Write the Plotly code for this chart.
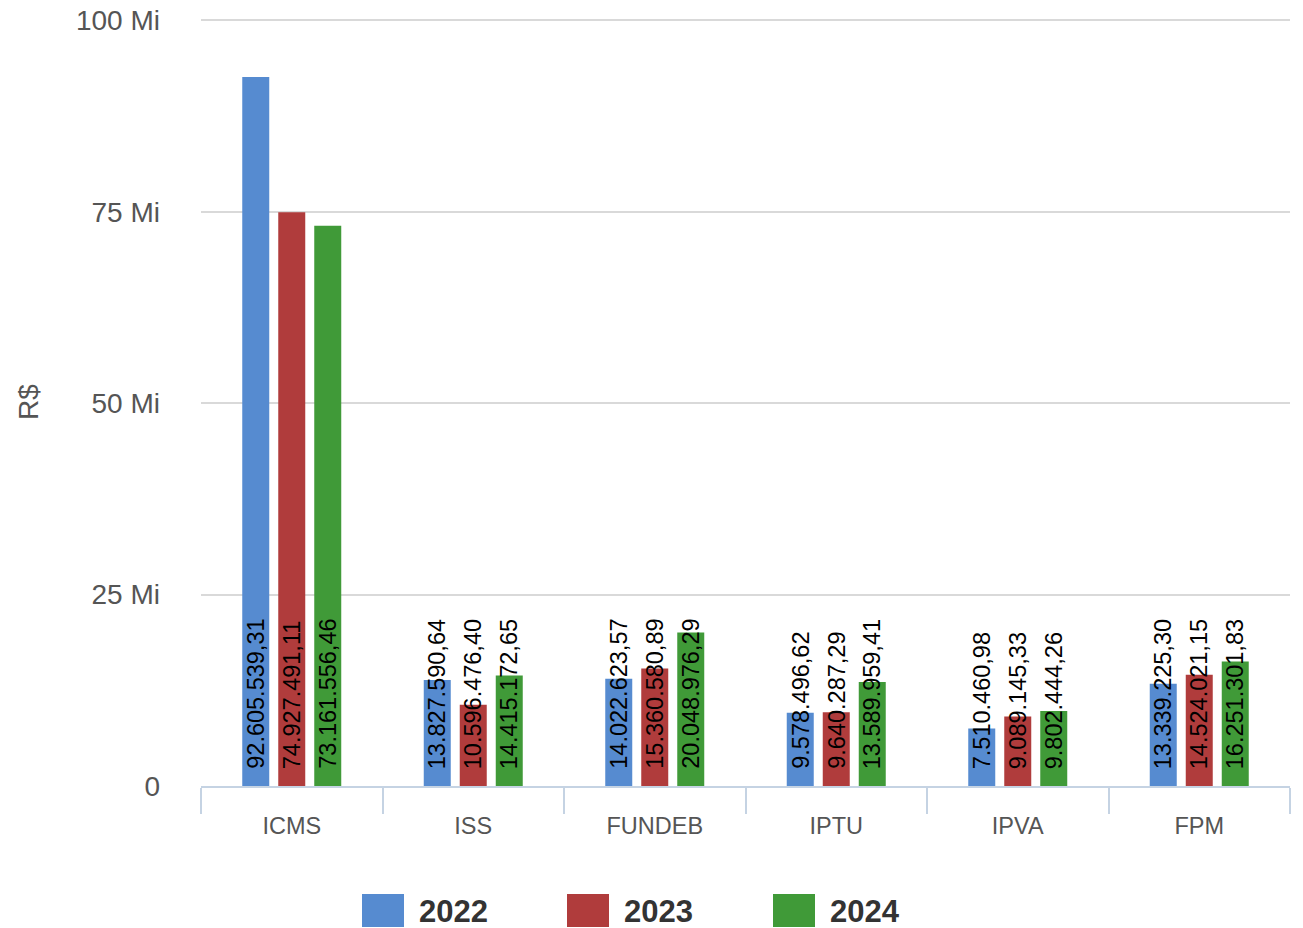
import plotly.graph_objects as go

categories = ["ICMS", "ISS", "FUNDEB", "IPTU", "IPVA", "FPM"]
years = ["2022", "2023", "2024"]
v2022 = [92605539.31, 13827590.64, 14022623.57, 9578496.62, 7510460.98, 13339225.30]
v2023 = [74927491.11, 10596476.40, 15360580.89, 9640287.29, 9089145.33, 14524021.15]
v2024 = [73161556.46, 14415172.65, 20048976.29, 13589959.41, 9802444.26, 16251301.83]
colors = ["#568bd0", "#b03c3c", "#409a38"]
tick_vals = [0, 25e6, 50e6, 75e6, 100e6]
tick_text = ["0", "25 Mi", "50 Mi", "75 Mi", "100 Mi"]


def fmt_br(v):
    s = f"{v:,.2f}"
    return s.replace(",", "X").replace(".", ",").replace("X", ".")


# page body adds an 8px margin; figure coordinates are offset accordingly
W, H = 1287, 920
L, R, T, B = 193, 5, 10, 142
PW, PH = W - L - R, H - T - B
BARGAP = 0.405
cat_px = PW / len(categories)
slot_px = cat_px * (1 - BARGAP) / 3

fig = go.Figure()
for i, (name, vals, col) in enumerate(zip(years, [v2022, v2023, v2024], colors)):
    fig.add_trace(go.Bar(
        x=categories, y=vals, name=name,
        marker=dict(color=col, line=dict(width=0)),
        showlegend=False, hoverinfo="x+y+name",
    ))
    for c, v in zip(categories, vals):
        fig.add_annotation(
            x=c, y=0, xref="x", yref="y",
            xshift=(i - 1) * slot_px, yshift=15,
            xanchor="center", yanchor="bottom",
            textangle=-90, showarrow=False,
            text=fmt_br(v),
            font=dict(family="Liberation Sans, Arial", size=23.5, color="#000000"),
        )

# custom legend with large swatches (figure pixel coords)
leg_x = [354, 559, 765]
for i, (name, col) in enumerate(zip(years, colors)):
    x0 = leg_x[i]
    fig.add_shape(type="rect", xref="paper", yref="paper",
                  x0=(x0 - L) / PW, x1=(x0 + 42 - L) / PW,
                  y0=(T + PH - 919) / PH, y1=(T + PH - 886) / PH,
                  fillcolor=col, line=dict(width=0))
    fig.add_annotation(xref="paper", yref="paper",
                       x=(x0 + 55 - L) / PW, y=(T + PH - 903) / PH,
                       xanchor="left", yanchor="middle", showarrow=False,
                       text=f"<b>{name}</b>",
                       font=dict(family="Liberation Sans, Arial", size=31, color="#333333"))

fig.update_layout(
    width=W, height=H,
    margin=dict(l=L, r=R, t=T, b=B, autoexpand=False),
    paper_bgcolor="white", plot_bgcolor="white",
    barmode="group", bargap=BARGAP, bargroupgap=0.25,
    showlegend=False,
    font=dict(family="Liberation Sans, Arial", color="#555555"),
)
fig.update_yaxes(
    range=[0, 100.3e6], tickvals=tick_vals, ticktext=tick_text,
    showgrid=True, gridcolor="#d9d9d9", gridwidth=2,
    zeroline=False, showline=False, automargin=False,
    tickfont=dict(size=28, color="#555555"),
    ticklabelstandoff=40, ticklabeloverflow="allow",
    title=dict(text="R$", font=dict(size=28, color="#555555"), standoff=29),
)
fig.update_xaxes(
    showline=True, linecolor="#c5d3e3", linewidth=2, automargin=False,
    ticks="outside", tickson="boundaries", ticklen=26, tickcolor="#c5d3e3", tickwidth=2,
    tickfont=dict(size=23.5, color="#555555"),
    ticklabelstandoff=18,
    showgrid=False,
)

fig.write_html("out.html")
